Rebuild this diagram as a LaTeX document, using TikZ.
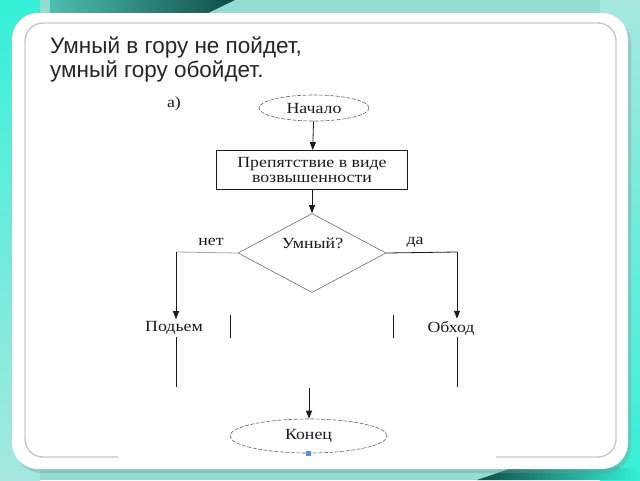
\documentclass[tikz,border=0pt]{standalone}
\usepackage{fontspec}
\setmainfont[FakeStretch=1.15]{Liberation Serif}
\newfontfamily\titlefont{Liberation Sans}
\usetikzlibrary{shapes.geometric,arrows.meta,calc}
\definecolor{bgteal}{HTML}{93DDD3}
\definecolor{lightteal}{HTML}{A6E8DF}
\definecolor{brightteal}{HTML}{35F0D8}
\definecolor{darkteal}{HTML}{0E4D47}
\definecolor{midteal}{HTML}{4DBFB2}
\definecolor{framegray}{HTML}{C8C8C8}
\definecolor{inkc}{HTML}{1A1A24}
\definecolor{markblue}{HTML}{5B8FD9}
\tikzset{
  flowtext/.style={font=\fontsize{15.5}{15.5}\selectfont, text=inkc, align=center},
  terminal/.style={ellipse, draw=gray!80!black, dash pattern=on 4pt off 1.5pt, line width=0.6pt, flowtext, inner sep=0pt},
  procbox/.style={rectangle, draw=inkc, line width=0.7pt, flowtext, inner sep=0pt},
  decision/.style={diamond, draw=gray!85!black, line width=0.6pt, inner sep=0pt},
  plain/.style={flowtext, inner sep=2pt},
  flowarrow/.style={draw=inkc, line width=0.8pt, -{Triangle[length=8pt,width=6pt]}},
  flowline/.style={draw=inkc, line width=0.8pt}
}
\begin{document}
\begin{tikzpicture}[x=1pt,y=-1pt]
\useasboundingbox (0,0) rectangle (640,480);
% background
\fill[bgteal] (0,0) rectangle (640,480);
\shade[top color=brightteal, bottom color=lightteal] (0,0) rectangle (40,480);
\shade[left color=midteal, right color=darkteal] (50,0) -- (235,0) -- (206,14) -- (50,14) -- cycle;
\shade[top color=lightteal, bottom color=brightteal] (600,0) rectangle (640,480);
\shade[left color=darkteal, right color=brightteal] (477,480) -- (518,466) -- (610,466) -- (640,470) -- (640,480) -- cycle;
% frame
\fill[black!45, opacity=0.35, rounded corners=26pt] (15,17) rectangle (631,473);
\fill[white, rounded corners=26pt] (12,13) rectangle (628,469);
\draw[framegray, line width=1.4pt, rounded corners=18pt] (25,23) rectangle (616,457);
\fill[white] (118,452) rectangle (496,463);
% title
\node[anchor=base west, align=left, inner sep=0pt, font=\titlefont\fontsize{22.5}{24}\selectfont, text=black!85] (title) at (50,77) {Умный в гору не пойдет,\\умный гору обойдет.};
% flowchart
\node[plain] (lbl) at (174,104) {а)};
\node[terminal, minimum width=110pt, minimum height=26pt] (start) at (314,108) {Начало};
\node[procbox, minimum width=191pt, minimum height=39pt] (obst) at (312,170) {Препятствие в виде\\возвышенности};
\node[decision, minimum width=148pt, minimum height=79pt] (dec) at (312,253) {};
\node[plain] (q) at (312.5,243) {Умный?};
\node[plain] (no) at (211,242) {нет};
\node[plain] (yes) at (415,242) {да};
\node[plain] (climb) at (174,328) {Подьем};
\node[plain] (detour) at (451,328) {Обход};
\node[terminal, minimum width=157pt, minimum height=34pt] (end) at (308.5,436) {Конец};
\coordinate (tl) at (176,252);
\coordinate (tr) at (457,252);
\coordinate (lb) at (176,387);
\coordinate (rb) at (457,387);
\coordinate (ja) at (309,388);
% connectors
\draw[flowarrow] (start) -- (obst);
\draw[flowarrow] (obst.south -| dec.north) -- (dec.north);
\draw[gray!70, line width=0.8pt] (dec.west) -- (tl);
\draw[flowarrow] (tl) -- (climb.north -| tl);
\draw[flowline] (dec.east) -- (tr);
\draw[flowarrow] (tr) -- (detour.north -| tr);
\draw[flowline] (climb.south -| tl) -- (lb);
\draw[flowline] (detour.south -| tr) -- (rb);
\draw[flowarrow] (ja) -- (ja |- end.north);
% stray box edges
\draw[flowline] (230,315) -- (230,338);
\draw[flowline] (393,315) -- (393,338);
\fill[markblue] (306,451) rectangle (311,456);
\end{tikzpicture}
\end{document}
